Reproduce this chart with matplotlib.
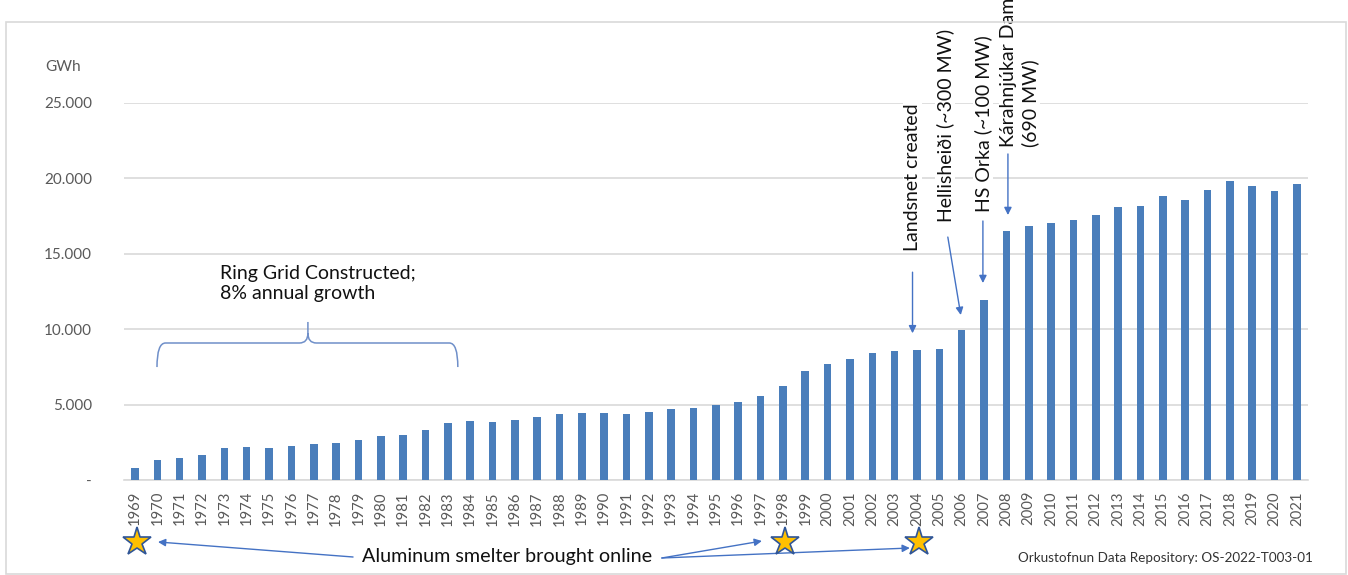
import matplotlib
matplotlib.use("Agg")
import matplotlib.pyplot as plt
from matplotlib.path import Path
from matplotlib.patches import PathPatch, Rectangle

plt.rcParams['font.family'] = ['Lato', 'DejaVu Sans']

# Annual electricity production in Iceland, GWh
years = list(range(1969, 2022))
gwh = [776, 1326, 1437, 1636, 2122, 2188, 2100, 2255, 2365, 2431,
       2652, 2918, 2984, 3337, 3780, 3891, 3824, 3979, 4180, 4400,
       4467, 4467, 4400, 4533, 4733, 4800, 4978, 5156, 5578, 6244,
       7200, 7667, 8044, 8422, 8533, 8644, 8711, 9956, 11947, 16511,
       16866, 17066, 17243, 17553, 18106, 18150, 18838, 18594, 19260, 19814,
       19526, 19149, 19637]

y_ticks = [0, 5000, 10000, 15000, 20000, 25000]
y_tick_labels = ['-', '5.000', '10.000', '15.000', '20.000', '25.000']

smelter_years = [1969, 1998, 2004]

BAR = '#4a7ebb'
ARROW = '#4472c4'
GRID = '#d9d9d9'
TICK = '#595959'
INK = '#111111'

W, H = 1348, 575
fig = plt.figure(figsize=(W / 100, H / 100), dpi=100)

# outer chart frame
fig.patches.append(Rectangle((6 / W, 1 / H), 1340 / W, 552.5 / H,
                             transform=fig.transFigure, fill=False,
                             edgecolor=GRID, lw=1.2, zorder=0))

ax = fig.add_axes([123.8 / W, 95 / H, (1308 - 123.8) / W, 377 / H])
x = list(range(len(years)))
ax.bar(x, gwh, width=0.34, color=BAR, zorder=3)

ax.set_xlim(-0.5, len(years) - 0.5)
ax.set_ylim(0, 25000)
ax.set_yticks(y_ticks)
ax.set_yticklabels(y_tick_labels)
ax.set_xticks(x)
ax.set_xticklabels([str(y) for y in years], rotation=90)
ax.tick_params(axis='y', length=0, pad=23, labelsize=11, labelcolor=TICK)
ax.tick_params(axis='x', length=0, pad=8, labelsize=10.7, labelcolor=TICK)
ax.yaxis.grid(True, color=GRID, lw=1.2, zorder=0)
ax.set_axisbelow(True)
for side in ('top', 'right', 'left'):
    ax.spines[side].set_visible(False)
ax.spines['bottom'].set_color(GRID)
ax.spines['bottom'].set_linewidth(1.2)

fig.text(45 / W, 1 - 67 / H, 'GWh', ha='left', va='center',
         fontsize=11, color=TICK)

idx = {y: i for i, y in enumerate(years)}
white = dict(facecolor='white', edgecolor='none', pad=0.5)
arrow = dict(arrowstyle='-|>', color=ARROW, lw=1, mutation_scale=11,
             shrinkA=0, shrinkB=0)

# event labels above the bars
ax.text(34.8, 15190, 'Landsnet created', rotation=90, ha='center',
        va='bottom', fontsize=14, color=INK, bbox=white, zorder=5)
ax.annotate('', xy=(34.8, 9730), xytext=(34.8, 13780),
            arrowprops=arrow, annotation_clip=False)

ax.text(36.25, 17110, 'Hellisheiði (~300 MW)', rotation=90, ha='center',
        va='bottom', fontsize=14, color=INK, bbox=white, zorder=5)
ax.annotate('', xy=(36.96, 10940), xytext=(36.38, 16110),
            arrowprops=arrow, annotation_clip=False)

ax.text(37.95, 17770, 'HS Orka (~100 MW)', rotation=90, ha='center',
        va='bottom', fontsize=14, color=INK, bbox=white, zorder=5)
ax.annotate('', xy=(37.95, 13060), xytext=(37.95, 17175),
            arrowprops=arrow, annotation_clip=False)

ax.text(39.6, 22080, 'Kárahnjúkar Dam\n(690 MW)', rotation=90, ha='center',
        va='bottom', multialignment='left', linespacing=1.3, fontsize=14,
        color=INK, bbox=white, zorder=5, clip_on=False)
ax.annotate('', xy=(39.07, 17570), xytext=(39.07, 21620),
            arrowprops=arrow, annotation_clip=False)

# ring grid brace
ax.text(3.8, 13030, 'Ring Grid Constructed;\n8% annual growth',
        ha='left', va='center', linespacing=1.28, fontsize=14, color=INK)
x0, xm, x1 = 0.985, 7.74, 14.45
yb, yh, yt = 7490, 9085, 10480
rx, ry = 0.38, 650
verts = [(x0, yb), (x0, yh), (x0 + rx, yh),
         (xm - rx, yh), (xm, yh), (xm, yh + ry), (xm, yt),
         (xm, yh + ry), (xm, yh), (xm + rx, yh),
         (x1 - rx, yh), (x1, yh), (x1, yb)]
codes = [Path.MOVETO, Path.CURVE3, Path.CURVE3,
         Path.LINETO, Path.CURVE3, Path.CURVE3, Path.LINETO,
         Path.MOVETO, Path.CURVE3, Path.CURVE3,
         Path.LINETO, Path.CURVE3, Path.CURVE3]
ax.add_patch(PathPatch(Path(verts, codes), fill=False, edgecolor='#6f8fc9',
                       lw=1.1, clip_on=False, zorder=4))

# aluminium smelters, marked below the year axis
sx = [idx[y] + 0.1 for y in smelter_years]
ax.plot(sx, [-4110] * len(sx), ls='none', marker='*', ms=21,
        mfc='#ffc000', mec='#2f5597', mew=1.2, clip_on=False, zorder=6)
ax.text(16.65, -5040, 'Aluminum smelter brought online', ha='center',
        va='center', fontsize=14.2, color=INK)
ax.annotate('', xy=(1.03, -4110), xytext=(9.76, -5106),
            arrowprops=arrow, annotation_clip=False)
ax.annotate('', xy=(28.06, -4045), xytext=(23.58, -5172),
            arrowprops=arrow, annotation_clip=False)
ax.annotate('', xy=(34.68, -4510), xytext=(23.58, -5172),
            arrowprops=arrow, annotation_clip=False)

ax.text(52.72, -5172, 'Orkustofnun Data Repository: OS-2022-T003-01',
        ha='right', va='center', fontsize=9.7, color='#333333')

fig.savefig('out.png', dpi=100)
